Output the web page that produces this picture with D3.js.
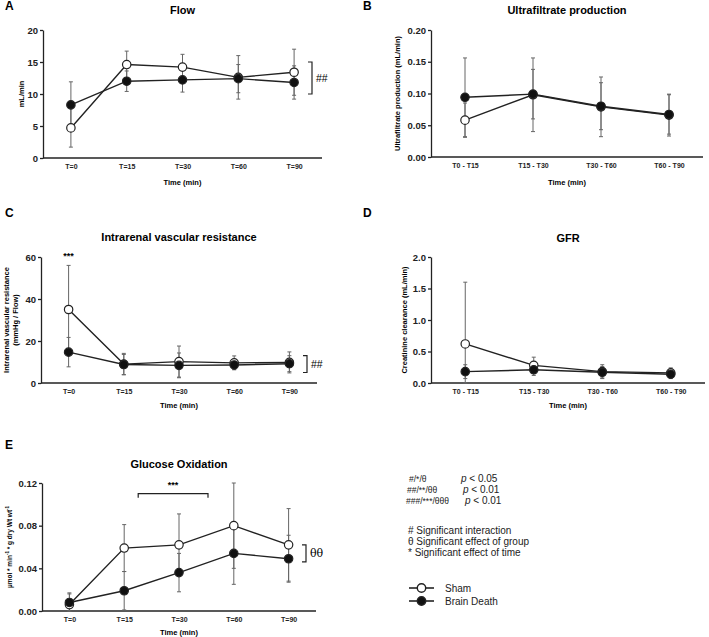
<!DOCTYPE html>
<html lang="en">
<head>
<meta charset="UTF-8">
<title>Renal function panels</title>
<script src="https://d3js.org/d3.v7.min.js"></script>
<style>
  body { margin: 0; background: #fff; }
  svg { display: block; font-family: 'Liberation Sans', Arial, sans-serif; }
  .axis path, .axis line { stroke: #222; stroke-width: 1.3; }
  .axis text { font-weight: bold; fill: #222; }
  .ptitle { font-weight: bold; font-size: 11px; }
  .plabel { font-weight: bold; font-size: 12px; }
  .alabel { font-weight: bold; font-size: 7.5px; }
  .legend { font-size: 10px; fill: #222; }
</style>
</head>
<body>
<svg id="fig" width="709" height="637"></svg>
<script>
// categories
const cats5 = ["T=0", "T=15", "T=30", "T=60", "T=90"];
const cats4 = ["T0 - T15", "T15 - T30", "T30 - T60", "T60 - T90"];

// A - Flow (mL/min)
const flowSham = [4.7, 14.6, 14.2, 12.6, 13.4];
const flowShamErr = [3.0, 2.1, 2.0, 3.4, 3.6];
const flowBD = [8.3, 12.0, 12.2, 12.4, 11.8];
const flowBDErr = [3.6, 1.6, 1.9, 2.2, 2.6];

// B - Ultrafiltrate production (mL/min)
const ufSham = [0.058, 0.098, 0.079, 0.066];
const ufShamErr = [0.027, 0.058, 0.047, 0.033];
const ufBD = [0.094, 0.099, 0.080, 0.067];
const ufBDErr = [0.062, 0.039, 0.037, 0.031];

// C - Intrarenal vascular resistance
const ivrSham = [35, 9.0, 10.2, 9.6, 9.8];
const ivrShamErr = [21, 5.1, 7.4, 3.3, 5.0];
const ivrBD = [14.7, 8.8, 8.4, 8.6, 9.2];
const ivrBDErr = [7.0, 4.8, 5.9, 2.2, 3.8];

// D - GFR (creatinine clearance)
const gfrSham = [0.62, 0.28, 0.18, 0.16];
const gfrShamErr = [0.98, 0.13, 0.11, 0.08];
const gfrBD = [0.18, 0.21, 0.17, 0.14];
const gfrBDErr = [0.11, 0.09, 0.09, 0.07];

// E - Glucose oxidation
const glucSham = [0.006, 0.059, 0.062, 0.080, 0.062];
const glucShamErr = [0.010, 0.022, 0.029, 0.040, 0.034];
const glucBD = [0.008, 0.019, 0.036, 0.054, 0.049];
const glucBDErr = [0.009, 0.018, 0.018, 0.029, 0.022];

const svg = d3.select("#fig");

const panels = [
  { id: "A", title: "Flow", cats: cats5, sham: flowSham, shamErr: flowShamErr, bd: flowBD, bdErr: flowBDErr,
    yMax: 20, ticks: [0, 5, 10, 15, 20], fmt: d3.format("d"),
    box: { l: 43, r: 322, t: 30, b: 158 }, titleY: 10, labelY: 10, xLabY: 182,
    yLab: ["mL/min"], yLabX: 21,
    bracket: { lo: 10, hi: 15, text: "##" } },
  { id: "B", title: "Ultrafiltrate production", cats: cats4, sham: ufSham, shamErr: ufShamErr, bd: ufBD, bdErr: ufBDErr,
    yMax: 0.20, ticks: [0, 0.05, 0.10, 0.15, 0.20], fmt: d3.format(".2f"),
    box: { l: 431, r: 703, t: 30, b: 157 }, titleY: 10, labelY: 10, xLabY: 182,
    yLab: ["Ultrafiltrate production (mL/min)"], yLabX: 397 },
  { id: "C", title: "Intrarenal vascular resistance", cats: cats5, sham: ivrSham, shamErr: ivrShamErr, bd: ivrBD, bdErr: ivrBDErr,
    yMax: 60, ticks: [0, 20, 40, 60], fmt: d3.format("d"),
    box: { l: 41, r: 317, t: 257, b: 383 }, titleY: 237, labelY: 217, xLabY: 405,
    yLab: ["Intrarenal vascular resistance", "(mmHg / Flow)"], yLabX: 6,
    bracket: { lo: 5, hi: 13, text: "##" }, stars: { cat: "T=0", val: 60, text: "***" } },
  { id: "D", title: "GFR", cats: cats4, sham: gfrSham, shamErr: gfrShamErr, bd: gfrBD, bdErr: gfrBDErr,
    yMax: 2.0, ticks: [0, 0.5, 1.0, 1.5, 2.0], fmt: d3.format(".1f"),
    box: { l: 431, r: 705, t: 257, b: 383 }, titleY: 238, labelY: 217, xLabY: 405,
    yLab: ["Creatinine clearance (mL/min)"], yLabX: 404 },
  { id: "E", title: "Glucose Oxidation", cats: cats5, sham: glucSham, shamErr: glucShamErr, bd: glucBD, bdErr: glucBDErr,
    yMax: 0.12, ticks: [0, 0.04, 0.08, 0.12], fmt: d3.format(".2f"),
    box: { l: 42, r: 316, t: 483, b: 611 }, titleY: 464, labelY: 449, xLabY: 632,
    yLab: null, yLabX: 9,
    bracket: { lo: 0.046, hi: 0.062, text: "θθ", serif: true } }
];

function drawPanel(p) {
  const g = svg.append("g");
  const x = d3.scalePoint().domain(p.cats).range([p.box.l, p.box.r]).padding(0.5);
  const y = d3.scaleLinear().domain([0, p.yMax]).range([p.box.b, p.box.t]);
  const midX = (p.box.l + p.box.r) / 2;

  g.append("text").attr("class", "plabel").attr("x", p.box.l < 300 ? 5 : 363).attr("y", p.labelY)
    .text(p.id);
  g.append("text").attr("class", "ptitle").attr("x", midX).attr("y", p.titleY + 4)
    .attr("text-anchor", "middle").text(p.title);

  g.append("g").attr("class", "axis").attr("transform", `translate(${p.box.l},0)`)
    .call(d3.axisLeft(y).tickValues(p.ticks).tickFormat(p.fmt).tickSize(3).tickSizeOuter(0).tickPadding(2))
    .selectAll("text").style("font-size", "9.5px");
  const xa = g.append("g").attr("class", "axis").attr("transform", `translate(0,${p.box.b})`)
    .call(d3.axisBottom(x).tickSize(0).tickPadding(6));
  xa.select(".domain").attr("d", `M${p.box.l},0H${p.box.r}`);
  xa.selectAll("text").style("font-size", "7px");

  g.append("text").attr("class", "alabel").attr("x", midX).attr("y", p.xLabY + 3)
    .attr("text-anchor", "middle").text("Time (min)");

  const yMid = (p.box.t + p.box.b) / 2;
  if (p.yLab) {
    const t = g.append("text").attr("class", "alabel").attr("text-anchor", "middle")
      .attr("transform", `translate(${p.yLabX},${yMid}) rotate(-90)`);
    p.yLab.forEach((s, i) => t.append("tspan").attr("x", 0).attr("dy", i === 0 ? 3 : 9).text(s));
  } else {
    const t = g.append("text").attr("class", "alabel").attr("text-anchor", "middle")
      .style("font-size", "6.5px")
      .attr("transform", `translate(${p.yLabX},${yMid}) rotate(-90)`);
    t.append("tspan").attr("dy", 3).text("µmol * min");
    t.append("tspan").attr("dy", -3).style("font-size", "4.5px").text("-1");
    t.append("tspan").attr("dy", 3).text(" * g dry Wt wt");
    t.append("tspan").attr("dy", -3).style("font-size", "4.5px").text("-1");
  }

  const series = [
    { vals: p.sham, err: p.shamErr, fill: "#fff" },
    { vals: p.bd, err: p.bdErr, fill: "#111" }
  ];

  // error bars
  series.forEach(s => {
    s.vals.forEach((v, i) => {
      const cx = x(p.cats[i]);
      const hi = y(v + s.err[i]);
      const lo = y(Math.max(0, v - s.err[i]));
      g.append("line").attr("x1", cx).attr("x2", cx).attr("y1", hi).attr("y2", lo)
        .attr("stroke", "#666").attr("stroke-width", 1);
      [hi, lo].forEach(yy => g.append("line").attr("x1", cx - 2).attr("x2", cx + 2)
        .attr("y1", yy).attr("y2", yy).attr("stroke", "#666").attr("stroke-width", 1));
    });
  });

  const line = d3.line().x((d, i) => x(p.cats[i])).y(d => y(d));
  series.forEach(s => {
    g.append("path").datum(s.vals).attr("d", line).attr("fill", "none")
      .attr("stroke", "#222").attr("stroke-width", 1.4);
  });
  series.forEach(s => {
    g.selectAll(null).data(s.vals).enter().append("circle")
      .attr("cx", (d, i) => x(p.cats[i])).attr("cy", d => y(d)).attr("r", 4.2)
      .attr("fill", s.fill).attr("stroke", "#222").attr("stroke-width", 1.2);
  });

  if (p.bracket) {
    const bx = p.box.r - 10;
    const y1 = y(p.bracket.hi), y2 = y(p.bracket.lo);
    g.append("path").attr("d", `M${bx - 4},${y1}H${bx}V${y2}H${bx - 4}`)
      .attr("fill", "none").attr("stroke", "#222").attr("stroke-width", 1.2);
    g.append("text").attr("x", bx + 4).attr("y", (y1 + y2) / 2 + 4)
      .style("font-size", p.bracket.serif ? "11px" : "10.5px")
      .style("font-family", p.bracket.serif ? "'DejaVu Serif', serif" : null)
      .text(p.bracket.text);
  }
  if (p.stars) {
    g.append("text").attr("x", x(p.stars.cat)).attr("y", y(p.stars.val) + 2)
      .attr("text-anchor", "middle").style("font-size", "9px").style("font-weight", "bold")
      .text(p.stars.text);
  }
  return { x, y };
}

const scales = panels.map(drawPanel);

// time bracket in E
{
  const { x, y } = scales[4];
  const x1 = x("T=15") + 14, x2 = x("T=30") + 29, by = y(0.110);
  svg.append("path").attr("d", `M${x1},${by + 4}V${by}H${x2}V${by + 4}`)
    .attr("fill", "none").attr("stroke", "#222").attr("stroke-width", 1.2);
  svg.append("text").attr("x", (x1 + x2) / 2).attr("y", by - 6).attr("text-anchor", "middle")
    .style("font-size", "9px").style("font-weight", "bold").text("***");
}

// legend / key
const key = svg.append("g").attr("class", "legend");
const pRows = [["#/*/θ", "0.05", 409, 461], ["##/**/θθ", "0.01", 407, 463], ["###/***/θθθ", "0.01", 406, 465]];
pRows.forEach((r, i) => {
  const yy = 482 + i * 11;
  key.append("text").attr("x", r[2]).attr("y", yy).style("font-size", "8.5px").text(r[0]);
  const t = key.append("text").attr("x", r[3]).attr("y", yy);
  t.append("tspan").style("font-style", "italic").text("p");
  t.append("tspan").text(" < " + r[1]);
});
["# Significant interaction", "θ Significant effect of group", "* Significant effect of time"]
  .forEach((s, i) => key.append("text").attr("x", 408).attr("y", 534 + i * 11).text(s));

[["Sham", "#fff"], ["Brain Death", "#111"]].forEach((d, i) => {
  const yy = 588 + i * 13;
  key.append("line").attr("x1", 409).attr("x2", 434).attr("y1", yy).attr("y2", yy)
    .attr("stroke", "#222").attr("stroke-width", 1.6);
  key.append("circle").attr("cx", 421.5).attr("cy", yy).attr("r", 4.2)
    .attr("fill", d[1]).attr("stroke", "#222").attr("stroke-width", 1.4);
  key.append("text").attr("x", 445).attr("y", yy + 4).text(d[0]);
});
</script>
</body>
</html>
